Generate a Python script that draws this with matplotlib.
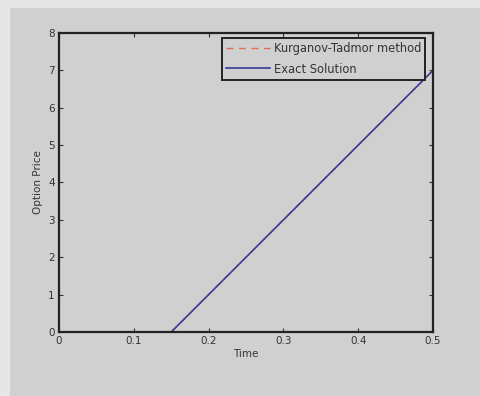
import numpy as np
import matplotlib
matplotlib.use("Agg")
import matplotlib.pyplot as plt
from matplotlib.patches import Rectangle

# data
t_kt = [0.0, 0.15, 0.5]
price_kt = [0.0, 0.0, 7.0]
t_exact = [0.0, 0.15, 0.5]
price_exact = [0.0, 0.0, 7.0]
xticks = [0, 0.1, 0.2, 0.3, 0.4, 0.5]
xticklabels = ["0", "0.1", "0.2", "0.3", "0.4", "0.5"]
yticks = list(range(0, 9))

W, H = 481, 396
fig = plt.figure(figsize=(W / 100, H / 100), dpi=100, facecolor="#e6e6e6")

# darker grey panel (screenshot of the figure window), behind everything
bg = fig.add_axes([10 / W, 0, 1 - 10 / W, 1 - 8 / H], zorder=-10)
bg.set_axis_off()
bg.add_patch(Rectangle((0, 0), 1, 1, transform=bg.transAxes,
                       facecolor="#d0d0d0", edgecolor="none"))

ax = fig.add_axes([59 / W, 1 - 332 / H, (433 - 59) / W, (332 - 33) / H])
ax.set_facecolor("#d0d0d0")

ax.plot(t_kt, price_kt, "--", color="#e07050", lw=1.0, dashes=(5, 4),
        label="Kurganov-Tadmor method")
ax.plot(t_exact, price_exact, "-", color="#3a3a9a", lw=1.2, label="Exact Solution")

ax.set_xlim(0, 0.5)
ax.set_ylim(0, 8)
ax.set_xticks(xticks)
ax.set_xticklabels(xticklabels)
ax.set_yticks(yticks)
ax.tick_params(direction="in", top=True, right=True, labelsize=7.5, length=3,
               color="#333333", labelcolor="#333333", pad=3)
for s in ax.spines.values():
    s.set_linewidth(1.6)
    s.set_color("#222222")

ax.set_xlabel("Time", fontsize=7.5, color="#333333", labelpad=2)
ax.set_ylabel("Option Price", fontsize=7.5, color="#333333", labelpad=4)

leg = ax.legend(loc="upper right", fontsize=8.3, frameon=True, fancybox=False,
                bbox_to_anchor=(425 / 374 - 59 / 374, 1 - 5 / 299),
                borderaxespad=0, handlelength=3.8, handletextpad=0.3,
                borderpad=0.35, labelspacing=0.65)
leg.get_frame().set_facecolor("#d0d0d0")
leg.get_frame().set_edgecolor("#222222")
leg.get_frame().set_linewidth(1.4)
leg.get_frame().set_alpha(1)
for txt in leg.get_texts():
    txt.set_color("#333333")

fig.savefig("out.png", dpi=100, facecolor=fig.get_facecolor())
